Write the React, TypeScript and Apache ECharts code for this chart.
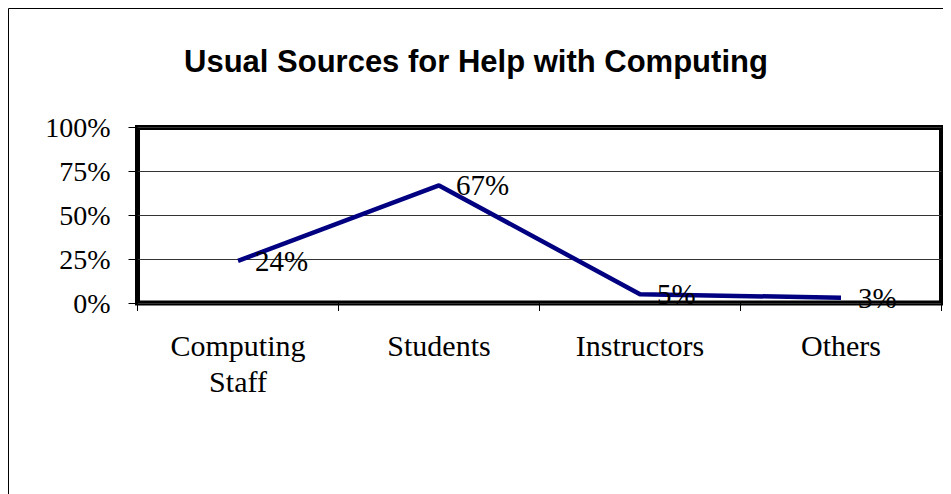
import React, { useEffect, useRef } from "react";
import * as echarts from "echarts";

const categories = ["Computing\nStaff", "Students", "Instructors", "Others"];
const values = [24, 67, 5, 3];
const yTicks = [0, 25, 50, 75, 100];
const titleText = "Usual Sources for Help with Computing";

export default function App() {
  const ref = useRef<HTMLDivElement>(null);
  useEffect(() => {
    if (!ref.current) return;
    const chart = echarts.init(ref.current, null, { renderer: "svg" });
    const serif = "'Liberation Serif', 'Times New Roman', serif";
    chart.setOption({
      animation: false,
      backgroundColor: "#fff",
      title: {
        text: titleText,
        left: 171,
        top: 33,
        textStyle: {
          fontFamily: "'Liberation Sans', Arial, sans-serif",
          fontWeight: "bold",
          fontSize: 31,
          color: "#000",
        },
      },
      graphic: [
        {
          type: "rect",
          shape: { x: 0.5, y: 0.5, width: 960, height: 520 },
          style: { fill: "none", stroke: "#000", lineWidth: 1 },
          silent: true,
          z: 100,
        },
      ],
      grid: {
        left: 129.5,
        top: 119.5,
        right: 9.5,
        bottom: 191,
        show: true,
        borderColor: "#000",
        borderWidth: 5,
        backgroundColor: "transparent",
        containLabel: false,
      },
      xAxis: {
        type: "category",
        data: categories,
        boundaryGap: true,
        axisLine: { show: false },
        axisTick: { show: true, length: 8, lineStyle: { color: "#000", width: 1 } },
        axisLabel: {
          fontFamily: serif,
          fontSize: 30,
          color: "#000",
          lineHeight: 36,
          margin: 24,
          interval: 0,
        },
        splitLine: { show: false },
      },
      yAxis: {
        type: "value",
        min: yTicks[0],
        max: yTicks[yTicks.length - 1],
        interval: 25,
        axisLine: { show: false },
        axisTick: { show: true, length: 9, lineStyle: { color: "#000", width: 1 } },
        axisLabel: {
          fontFamily: serif,
          fontSize: 28,
          color: "#000",
          margin: 27,
          formatter: (v: number) => v + "%",
        },
        splitLine: { show: true, lineStyle: { color: "#333", width: 1 } },
      },
      series: [
        {
          type: "line",
          data: values,
          symbol: "circle",
          symbolSize: 2,
          showSymbol: true,
          itemStyle: { color: "rgba(0,0,128,0)", borderWidth: 0 },
          lineStyle: { color: "#000080", width: 4.5 },
          label: {
            show: true,
            position: "right",
            distance: 16,
            fontFamily: serif,
            fontSize: 29,
            color: "#000",
            opacity: 1,
            formatter: (p: any) => p.value + "%",
          },
          z: 5,
        },
      ],
    });
    return () => chart.dispose();
  }, []);
  return <div ref={ref} style={{ width: 943, height: 486 }} />;
}
